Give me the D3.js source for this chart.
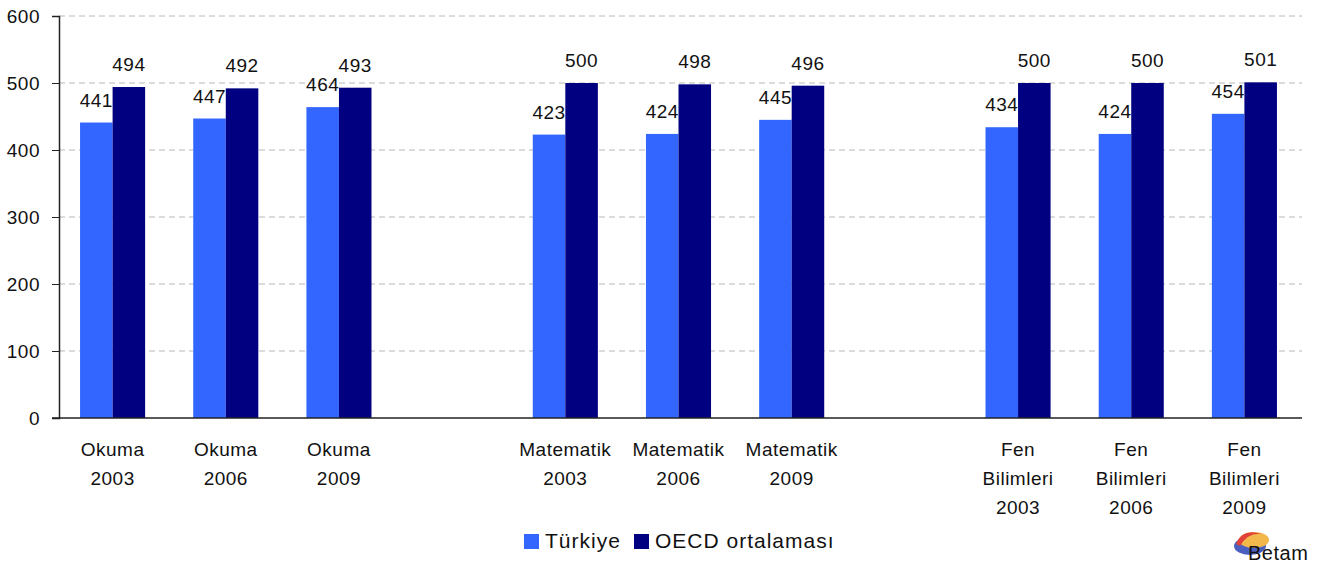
<!DOCTYPE html>
<html lang="en">
<head>
<meta charset="UTF-8">
<title>Türkiye ve OECD</title>
<script src="https://d3js.org/d3.v7.min.js"></script>
<style>
  body { margin: 0; background: #fff; }
  text { font-family: "Liberation Sans", Arial, sans-serif; fill: #111; letter-spacing: 0.5px; }
</style>
</head>
<body>
<svg width="1336" height="565"></svg>
<script>
// data
const categories = ["Okuma\n2003", "Okuma\n2006", "Okuma\n2009", "",
                    "Matematik\n2003", "Matematik\n2006", "Matematik\n2009", " ",
                    "Fen\nBilimleri\n2003", "Fen\nBilimleri\n2006", "Fen\nBilimleri\n2009"];
const turkiye = [441, 447, 464, null, 423, 424, 445, null, 434, 424, 454];
const oecd    = [494, 492, 493, null, 500, 498, 496, null, 500, 500, 501];
const seriesNames = ["Türkiye", "OECD ortalaması"];
const colors = ["#3366ff", "#000080"];
const yTicks = [0, 100, 200, 300, 400, 500, 600];

const svg = d3.select("svg");
const mLeft = 59, mRight = 1302, mTop = 16, mBottom = 418;
const fs = "19px";

const x = d3.scaleBand().domain(categories).range([mLeft - 3, mRight - 1])
    .paddingInner(0.425).paddingOuter(0.2125);
const x1 = d3.scaleBand().domain([0, 1]).range([0, x.bandwidth()]);
const y = d3.scaleLinear().domain([0, 600]).range([mBottom, mTop]);

// grid
svg.append("g").selectAll("line")
  .data(yTicks.filter(d => d > 0))
  .join("line")
    .attr("x1", mLeft).attr("x2", mRight)
    .attr("y1", d => y(d)).attr("y2", d => y(d))
    .attr("stroke", "#b8b8b8").attr("stroke-dasharray", "6,4");

// y axis
const yAxis = svg.append("g").attr("transform", `translate(${mLeft},0)`)
  .call(d3.axisLeft(y).tickValues(yTicks).tickSize(7).tickPadding(12));
yAxis.select(".domain").attr("stroke", "#222").attr("stroke-width", 1.5);
yAxis.selectAll(".tick line").attr("stroke", "#222");
yAxis.selectAll("text").style("font-size", fs).attr("fill", "#111");

// bars
const rows = categories.map((c, i) => ({ c, vals: [turkiye[i], oecd[i]] }))
  .filter(r => r.vals[0] != null);

const groups = svg.append("g").selectAll("g")
  .data(rows).join("g")
  .attr("transform", d => `translate(${x(d.c)},0)`);

groups.selectAll("rect")
  .data(d => d.vals)
  .join("rect")
    .attr("x", (v, i) => x1(i))
    .attr("width", x1.bandwidth())
    .attr("y", v => y(v))
    .attr("height", v => y(0) - y(v))
    .attr("fill", (v, i) => colors[i]);

groups.selectAll("text")
  .data(d => d.vals)
  .join("text")
    .attr("x", (v, i) => x1(i) + x1.bandwidth() / 2)
    .attr("y", v => y(v) - 16)
    .attr("text-anchor", "middle")
    .style("font-size", fs)
    .text(v => v);

// x axis line
svg.append("line")
  .attr("x1", mLeft - 7).attr("x2", mRight)
  .attr("y1", mBottom).attr("y2", mBottom)
  .attr("stroke", "#222").attr("stroke-width", 1.5);

// category labels
svg.append("g").selectAll("text")
  .data(categories.filter(c => c.trim() !== ""))
  .join("text")
    .attr("text-anchor", "middle")
    .style("font-size", fs)
    .attr("x", d => x(d) + x.bandwidth() / 2)
    .attr("y", 456)
    .each(function (d) {
      const t = d3.select(this);
      d.split("\n").forEach((line, i) => {
        t.append("tspan").attr("x", x(d) + x.bandwidth() / 2)
          .attr("dy", i === 0 ? 0 : 29).text(line);
      });
    });

// legend
const legend = svg.append("g").attr("transform", "translate(524,540)");
const lx = [0, 110];
seriesNames.forEach((name, i) => {
  legend.append("rect").attr("x", lx[i]).attr("y", -6).attr("width", 15).attr("height", 15)
    .attr("fill", colors[i]);
  legend.append("text").attr("x", lx[i] + 21).attr("y", 8)
    .style("font-size", "21px").style("letter-spacing", "1px").text(name);
});

// Betam logo
const logo = svg.append("g").attr("transform", "translate(1232,528)");
logo.append("ellipse").attr("cx", 18).attr("cy", 18).attr("rx", 16).attr("ry", 9)
  .attr("fill", "#4a5fc0");
logo.append("ellipse").attr("cx", 22).attr("cy", 12).attr("rx", 15).attr("ry", 8)
  .attr("fill", "#f2b84b");
logo.append("path").attr("d", "M4,16 Q10,0 30,6 Q16,4 8,18 Z").attr("fill", "#e0413a");
logo.append("text").attr("x", 16).attr("y", 32).style("font-size", "20px")
  .attr("fill", "#2a3550").text("Betam");
</script>
</body>
</html>
